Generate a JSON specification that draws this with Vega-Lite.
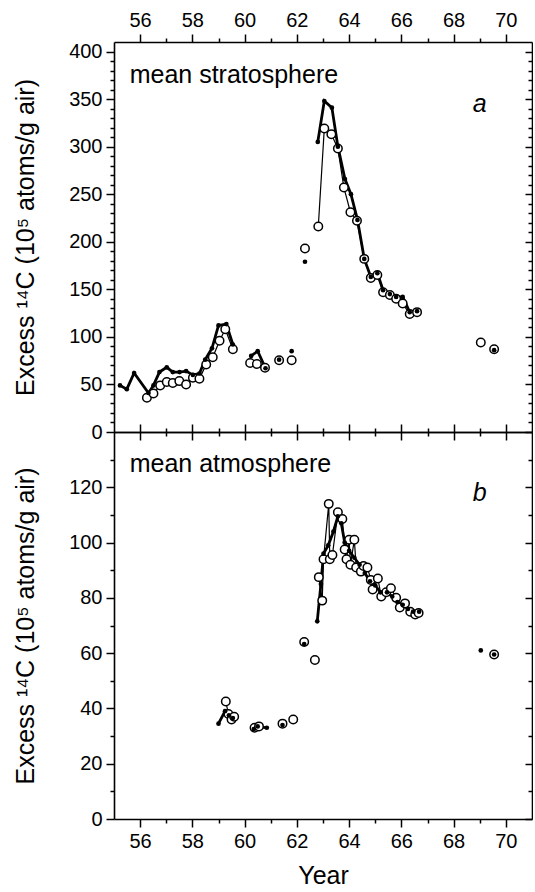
{
  "$schema": "https://vega.github.io/schema/vega-lite/v6.json",
  "background": "white",
  "padding": {"left": 13, "top": 10, "right": 0, "bottom": 0},
  "bounds": "flush",
  "spacing": 0,
  "config": {
    "font": "Liberation Sans",
    "view": {"stroke": null},
    "axis": {
      "domainColor": "black", "domainWidth": 1.6, "tickColor": "black", "tickWidth": 1.5,
      "labelColor": "black", "labelFont": "Liberation Sans", "labelFontSize": 20, "labelPadding": 4,
      "labelOverlap": false, "labelFlush": false, "labelBound": false,
      "titleFont": "Liberation Sans", "titleFontSize": 25, "titleFontWeight": "normal", "titleColor": "black",
      "grid": false
    }
  },
  "datasets": {
    "top": [
      {"s": "f", "g": 1, "x": 55.23, "y": 49}, {"s": "f", "g": 1, "x": 55.49, "y": 45}, {"s": "f", "g": 1, "x": 55.77, "y": 62},
      {"s": "f", "g": 1, "x": 56.32, "y": 41}, {"s": "f", "g": 1, "x": 56.51, "y": 49}, {"s": "f", "g": 1, "x": 56.74, "y": 63},
      {"s": "f", "g": 1, "x": 57.02, "y": 68}, {"s": "f", "g": 1, "x": 57.25, "y": 63}, {"s": "f", "g": 1, "x": 57.51, "y": 63},
      {"s": "f", "g": 1, "x": 57.76, "y": 64}, {"s": "f", "g": 1, "x": 58.02, "y": 60}, {"s": "f", "g": 1, "x": 58.27, "y": 61.5},
      {"s": "f", "g": 1, "x": 58.49, "y": 76}, {"s": "f", "g": 1, "x": 58.75, "y": 88}, {"s": "f", "g": 1, "x": 59.0, "y": 112},
      {"s": "f", "g": 1, "x": 59.3, "y": 113.5}, {"s": "f", "g": 1, "x": 59.55, "y": 92},
      {"s": "f", "g": 2, "x": 60.25, "y": 80}, {"s": "f", "g": 2, "x": 60.5, "y": 85}, {"s": "f", "g": 2, "x": 60.8, "y": 67},
      {"s": "f", "g": 3, "x": 61.32, "y": 76},
      {"s": "f", "g": 4, "x": 61.8, "y": 85},
      {"s": "f", "g": 5, "x": 62.31, "y": 179},
      {"s": "f", "g": 6, "x": 62.8, "y": 305}, {"s": "f", "g": 6, "x": 63.05, "y": 348}, {"s": "f", "g": 6, "x": 63.34, "y": 341},
      {"s": "f", "g": 6, "x": 63.57, "y": 300}, {"s": "f", "g": 6, "x": 63.84, "y": 266}, {"s": "f", "g": 6, "x": 64.07, "y": 250},
      {"s": "f", "g": 6, "x": 64.32, "y": 223}, {"s": "f", "g": 6, "x": 64.58, "y": 182}, {"s": "f", "g": 6, "x": 64.83, "y": 163},
      {"s": "f", "g": 6, "x": 65.08, "y": 167}, {"s": "f", "g": 6, "x": 65.3, "y": 149}, {"s": "f", "g": 6, "x": 65.56, "y": 145},
      {"s": "f", "g": 6, "x": 65.8, "y": 142}, {"s": "f", "g": 6, "x": 66.05, "y": 142}, {"s": "f", "g": 6, "x": 66.32, "y": 126},
      {"s": "f", "g": 6, "x": 66.6, "y": 127},
      {"s": "f", "g": 7, "x": 69.55, "y": 86},
      {"s": "o", "g": 11, "x": 56.26, "y": 36}, {"s": "o", "g": 11, "x": 56.51, "y": 40.5}, {"s": "o", "g": 11, "x": 56.77, "y": 49},
      {"s": "o", "g": 11, "x": 57.02, "y": 52.5}, {"s": "o", "g": 11, "x": 57.25, "y": 51.5}, {"s": "o", "g": 11, "x": 57.5, "y": 53.5},
      {"s": "o", "g": 11, "x": 57.76, "y": 50}, {"s": "o", "g": 11, "x": 58.02, "y": 57}, {"s": "o", "g": 11, "x": 58.27, "y": 56},
      {"s": "o", "g": 11, "x": 58.53, "y": 71}, {"s": "o", "g": 11, "x": 58.78, "y": 78.5}, {"s": "o", "g": 11, "x": 59.04, "y": 96},
      {"s": "o", "g": 11, "x": 59.26, "y": 108}, {"s": "o", "g": 11, "x": 59.55, "y": 87},
      {"s": "o", "g": 12, "x": 60.21, "y": 72.5}, {"s": "o", "g": 12, "x": 60.47, "y": 71.5}, {"s": "o", "g": 12, "x": 60.78, "y": 67.5},
      {"s": "o", "g": 13, "x": 61.32, "y": 75.5},
      {"s": "o", "g": 14, "x": 61.8, "y": 75.5},
      {"s": "o", "g": 15, "x": 62.31, "y": 193},
      {"s": "o", "g": 16, "x": 62.82, "y": 216}, {"s": "o", "g": 16, "x": 63.05, "y": 319}, {"s": "o", "g": 16, "x": 63.32, "y": 313},
      {"s": "o", "g": 16, "x": 63.57, "y": 298}, {"s": "o", "g": 16, "x": 63.8, "y": 257}, {"s": "o", "g": 16, "x": 64.05, "y": 231},
      {"s": "o", "g": 16, "x": 64.3, "y": 222}, {"s": "o", "g": 16, "x": 64.58, "y": 182}, {"s": "o", "g": 16, "x": 64.83, "y": 162},
      {"s": "o", "g": 16, "x": 65.08, "y": 165}, {"s": "o", "g": 16, "x": 65.3, "y": 147}, {"s": "o", "g": 16, "x": 65.56, "y": 144},
      {"s": "o", "g": 16, "x": 65.8, "y": 140}, {"s": "o", "g": 16, "x": 66.05, "y": 135}, {"s": "o", "g": 16, "x": 66.32, "y": 124},
      {"s": "o", "g": 16, "x": 66.6, "y": 126},
      {"s": "o", "g": 17, "x": 69.04, "y": 94},
      {"s": "o", "g": 18, "x": 69.55, "y": 87}
    ],
    "bottom": [
      {"s": "f", "g": 1, "x": 59.0, "y": 34.5}, {"s": "f", "g": 1, "x": 59.25, "y": 39}, {"s": "f", "g": 1, "x": 59.4, "y": 37.5}, {"s": "f", "g": 1, "x": 59.55, "y": 36.5},
      {"s": "f", "g": 2, "x": 60.35, "y": 32.5}, {"s": "f", "g": 2, "x": 60.5, "y": 33.5}, {"s": "f", "g": 2, "x": 60.85, "y": 33},
      {"s": "f", "g": 3, "x": 61.45, "y": 34},
      {"s": "f", "g": 5, "x": 62.28, "y": 63.3},
      {"s": "f", "g": 6, "x": 62.78, "y": 71.5}, {"s": "f", "g": 6, "x": 62.92, "y": 85}, {"s": "f", "g": 6, "x": 63.02, "y": 96},
      {"s": "f", "g": 6, "x": 63.2, "y": 99}, {"s": "f", "g": 6, "x": 63.4, "y": 104}, {"s": "f", "g": 6, "x": 63.57, "y": 109.5},
      {"s": "f", "g": 6, "x": 63.7, "y": 107}, {"s": "f", "g": 6, "x": 63.83, "y": 100}, {"s": "f", "g": 6, "x": 64.0, "y": 97},
      {"s": "f", "g": 6, "x": 64.2, "y": 94.5}, {"s": "f", "g": 6, "x": 64.4, "y": 92}, {"s": "f", "g": 6, "x": 64.6, "y": 89},
      {"s": "f", "g": 6, "x": 64.8, "y": 86}, {"s": "f", "g": 6, "x": 65.0, "y": 84.5}, {"s": "f", "g": 6, "x": 65.2, "y": 82},
      {"s": "f", "g": 6, "x": 65.45, "y": 82}, {"s": "f", "g": 6, "x": 65.65, "y": 80.5}, {"s": "f", "g": 6, "x": 65.85, "y": 78.5},
      {"s": "f", "g": 6, "x": 66.05, "y": 77.5}, {"s": "f", "g": 6, "x": 66.25, "y": 76}, {"s": "f", "g": 6, "x": 66.45, "y": 75},
      {"s": "f", "g": 6, "x": 66.68, "y": 75},
      {"s": "f", "g": 7, "x": 69.04, "y": 61},
      {"s": "f", "g": 8, "x": 69.55, "y": 59.5},
      {"s": "o", "g": 11, "x": 59.28, "y": 42.5}, {"s": "o", "g": 11, "x": 59.38, "y": 38}, {"s": "o", "g": 11, "x": 59.5, "y": 36}, {"s": "o", "g": 11, "x": 59.6, "y": 37},
      {"s": "o", "g": 12, "x": 60.38, "y": 33}, {"s": "o", "g": 12, "x": 60.55, "y": 33.5},
      {"s": "o", "g": 13, "x": 61.45, "y": 34.5},
      {"s": "o", "g": 14, "x": 61.86, "y": 36},
      {"s": "o", "g": 15, "x": 62.28, "y": 64},
      {"s": "o", "g": 16, "x": 62.69, "y": 57.5},
      {"s": "o", "g": 17, "x": 62.84, "y": 87.5}, {"s": "o", "g": 17, "x": 62.97, "y": 79}, {"s": "o", "g": 17, "x": 63.02, "y": 94},
      {"s": "o", "g": 17, "x": 63.22, "y": 114}, {"s": "o", "g": 17, "x": 63.26, "y": 94}, {"s": "o", "g": 17, "x": 63.36, "y": 95.5},
      {"s": "o", "g": 17, "x": 63.57, "y": 111}, {"s": "o", "g": 17, "x": 63.74, "y": 108.5}, {"s": "o", "g": 17, "x": 63.83, "y": 97.5},
      {"s": "o", "g": 17, "x": 63.9, "y": 94}, {"s": "o", "g": 17, "x": 64.0, "y": 101}, {"s": "o", "g": 17, "x": 64.05, "y": 92},
      {"s": "o", "g": 17, "x": 64.2, "y": 101}, {"s": "o", "g": 17, "x": 64.27, "y": 91}, {"s": "o", "g": 17, "x": 64.45, "y": 89.5},
      {"s": "o", "g": 17, "x": 64.55, "y": 91.5}, {"s": "o", "g": 17, "x": 64.7, "y": 91}, {"s": "o", "g": 17, "x": 64.83, "y": 86.5},
      {"s": "o", "g": 17, "x": 64.9, "y": 83}, {"s": "o", "g": 17, "x": 65.1, "y": 87}, {"s": "o", "g": 17, "x": 65.23, "y": 80.5},
      {"s": "o", "g": 17, "x": 65.42, "y": 82}, {"s": "o", "g": 17, "x": 65.6, "y": 83.5}, {"s": "o", "g": 17, "x": 65.8, "y": 80},
      {"s": "o", "g": 17, "x": 65.94, "y": 76.5}, {"s": "o", "g": 17, "x": 66.14, "y": 78}, {"s": "o", "g": 17, "x": 66.34, "y": 75},
      {"s": "o", "g": 17, "x": 66.53, "y": 74}, {"s": "o", "g": 17, "x": 66.66, "y": 74.5},
      {"s": "o", "g": 18, "x": 69.55, "y": 59.5}
    ]
  },
  "vconcat": [
    {
      "width": 418, "height": 390,
      "data": {"name": "top"},
      "layer": [
        {
          "transform": [{"filter": "datum.s == 'f'"}],
          "mark": {"type": "line", "color": "black", "strokeWidth": 2.8},
          "encoding": {
            "x": {"field": "x", "type": "quantitative", "scale": {"domain": [55, 71], "nice": false, "zero": false},
              "axis": {"orient": "top", "title": null, "values": [56,57,58,59,60,61,62,63,64,65,66,67,68,69,70],
                "labelExpr": "datum.value % 2 == 0 ? datum.label : ''",
                "tickSize": {"condition": {"test": "datum.value % 2 == 0", "value": 8}, "value": 4}}},
            "y": {"field": "y", "type": "quantitative", "scale": {"domain": [0, 410], "nice": false},
              "axis": {"orient": "left", "title": "Excess ¹⁴C (10⁵ atoms/g air)", "titlePadding": 30,
                "values": [0,10,20,30,40,50,60,70,80,90,100,110,120,130,140,150,160,170,180,190,200,210,220,230,240,250,260,270,280,290,300,310,320,330,340,350,360,370,380,390,400],
                "labelExpr": "datum.value % 50 == 0 ? datum.label : ''",
                "tickSize": {"condition": {"test": "datum.value % 50 == 0", "value": 8}, "value": 4}}},
            "detail": {"field": "g"}
          }
        },
        {
          "transform": [{"filter": "datum.s == 'o'"}],
          "mark": {"type": "line", "color": "black", "strokeWidth": 1.2},
          "encoding": {
            "x": {"field": "x", "type": "quantitative",
              "axis": {"orient": "bottom", "title": null, "labels": false, "values": [56,57,58,59,60,61,62,63,64,65,66,67,68,69,70],
                "tickSize": {"condition": {"test": "datum.value % 2 == 0", "value": 8}, "value": 4}}},
            "y": {"field": "y", "type": "quantitative",
              "axis": {"orient": "right", "title": null, "labels": false,
                "values": [0,10,20,30,40,50,60,70,80,90,100,110,120,130,140,150,160,170,180,190,200,210,220,230,240,250,260,270,280,290,300,310,320,330,340,350,360,370,380,390,400],
                "tickSize": {"condition": {"test": "datum.value % 50 == 0", "value": -7}, "value": -4}}},
            "detail": {"field": "g"}
          }
        },
        {
          "transform": [{"filter": "datum.s == 'o'"}],
          "mark": {"type": "circle", "fill": "white", "stroke": "black", "strokeWidth": 1.5, "size": 72, "opacity": 1},
          "encoding": {"x": {"field": "x", "type": "quantitative", "axis": null}, "y": {"field": "y", "type": "quantitative", "axis": null}}
        },
        {
          "transform": [{"filter": "datum.s == 'f'"}],
          "mark": {"type": "circle", "color": "black", "size": 22, "opacity": 1},
          "encoding": {"x": {"field": "x", "type": "quantitative", "axis": null}, "y": {"field": "y", "type": "quantitative", "axis": null}}
        },
        {
          "data": {"values": [{"t": "mean stratosphere", "x": 55.6, "y": 367}]},
          "mark": {"type": "text", "align": "left", "baseline": "alphabetic", "fontSize": 25, "font": "Liberation Sans", "color": "black"},
          "encoding": {"x": {"field": "x", "type": "quantitative", "axis": null}, "y": {"field": "y", "type": "quantitative", "axis": null}, "text": {"field": "t"}}
        },
        {
          "data": {"values": [{"t": "a", "x": 69.0, "y": 336}]},
          "mark": {"type": "text", "align": "center", "baseline": "alphabetic", "fontSize": 25, "fontStyle": "italic", "font": "Liberation Sans", "color": "black"},
          "encoding": {"x": {"field": "x", "type": "quantitative", "axis": null}, "y": {"field": "y", "type": "quantitative", "axis": null}, "text": {"field": "t"}}
        }
      ],
      "resolve": {"axis": {"x": "independent", "y": "independent"}}
    },
    {
      "width": 418, "height": 387,
      "data": {"name": "bottom"},
      "layer": [
        {
          "transform": [{"filter": "datum.s == 'f'"}],
          "mark": {"type": "line", "color": "black", "strokeWidth": 2.8},
          "encoding": {
            "x": {"field": "x", "type": "quantitative", "scale": {"domain": [55, 71], "nice": false, "zero": false},
              "axis": {"orient": "bottom", "title": "Year", "titlePadding": 12, "values": [56,57,58,59,60,61,62,63,64,65,66,67,68,69,70],
                "labelExpr": "datum.value % 2 == 0 ? datum.label : ''",
                "tickSize": {"condition": {"test": "datum.value % 2 == 0", "value": 8}, "value": 4}}},
            "y": {"field": "y", "type": "quantitative", "scale": {"domain": [0, 140], "nice": false},
              "axis": {"orient": "left", "title": "Excess ¹⁴C (10⁵ atoms/g air)", "titlePadding": 30,
                "values": [0,10,20,30,40,50,60,70,80,90,100,110,120,130],
                "labelExpr": "datum.value % 20 == 0 ? datum.label : ''",
                "tickSize": {"condition": {"test": "datum.value % 20 == 0", "value": 8}, "value": 4}}},
            "detail": {"field": "g"}
          }
        },
        {
          "transform": [{"filter": "datum.s == 'o'"}],
          "mark": {"type": "line", "color": "black", "strokeWidth": 1.2},
          "encoding": {
            "x": {"field": "x", "type": "quantitative",
              "axis": {"orient": "top", "title": null, "labels": false, "values": [56,57,58,59,60,61,62,63,64,65,66,67,68,69,70],
                "tickSize": {"condition": {"test": "datum.value % 2 == 0", "value": 8}, "value": 4}}},
            "y": {"field": "y", "type": "quantitative",
              "axis": {"orient": "right", "title": null, "labels": false,
                "values": [0,10,20,30,40,50,60,70,80,90,100,110,120,130],
                "tickSize": {"condition": {"test": "datum.value % 20 == 0", "value": -7}, "value": -4}}},
            "detail": {"field": "g"}
          }
        },
        {
          "transform": [{"filter": "datum.s == 'o'"}],
          "mark": {"type": "circle", "fill": "white", "stroke": "black", "strokeWidth": 1.5, "size": 72, "opacity": 1},
          "encoding": {"x": {"field": "x", "type": "quantitative", "axis": null}, "y": {"field": "y", "type": "quantitative", "axis": null}}
        },
        {
          "transform": [{"filter": "datum.s == 'f'"}],
          "mark": {"type": "circle", "color": "black", "size": 22, "opacity": 1},
          "encoding": {"x": {"field": "x", "type": "quantitative", "axis": null}, "y": {"field": "y", "type": "quantitative", "axis": null}}
        },
        {
          "data": {"values": [{"t": "mean atmosphere", "x": 55.6, "y": 125.7}]},
          "mark": {"type": "text", "align": "left", "baseline": "alphabetic", "fontSize": 25, "font": "Liberation Sans", "color": "black"},
          "encoding": {"x": {"field": "x", "type": "quantitative", "axis": null}, "y": {"field": "y", "type": "quantitative", "axis": null}, "text": {"field": "t"}}
        },
        {
          "data": {"values": [{"t": "b", "x": 69.0, "y": 115}]},
          "mark": {"type": "text", "align": "center", "baseline": "alphabetic", "fontSize": 25, "fontStyle": "italic", "font": "Liberation Sans", "color": "black"},
          "encoding": {"x": {"field": "x", "type": "quantitative", "axis": null}, "y": {"field": "y", "type": "quantitative", "axis": null}, "text": {"field": "t"}}
        }
      ],
      "resolve": {"axis": {"x": "independent", "y": "independent"}}
    }
  ]
}
